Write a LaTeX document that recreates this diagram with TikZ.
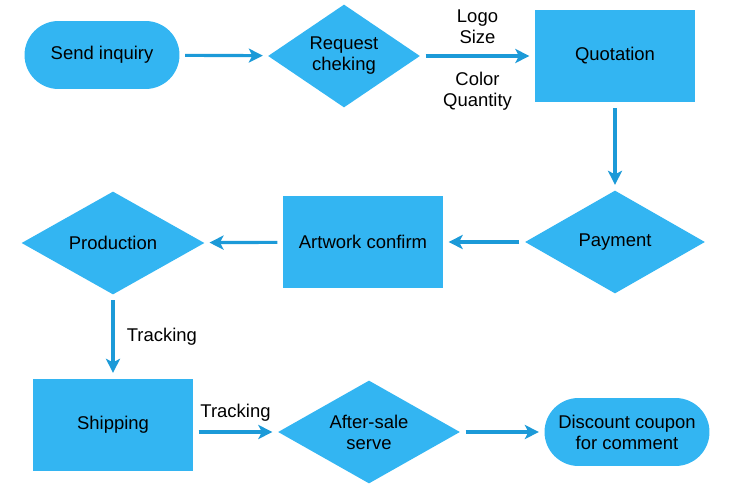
\documentclass[tikz,border=0pt]{standalone}
\usepackage{fontspec}
\setmainfont{Liberation Sans}
\usetikzlibrary{shapes.geometric,positioning,arrows.meta}
\definecolor{boxblue}{HTML}{33B5F2}
\definecolor{arrowblue}{HTML}{1C9AD8}
\begin{document}
\begin{tikzpicture}[x=0.02cm,y=-0.02cm,font=\fontsize{10.5}{12}\selectfont,
  every node/.style={align=center,inner sep=1pt},
  box/.style={rectangle,fill=boxblue,minimum width=3.2cm,minimum height=1.86cm},
  dia/.style={diamond,fill=boxblue,minimum width=3.6cm,minimum height=2.06cm,aspect=1.75},
  term/.style={rectangle,rounded corners=0.68cm,fill=boxblue,minimum width=3.1cm,minimum height=1.36cm},
  flow/.style={-{Stealth[length=8pt,width=8pt,inset=2pt]},line width=1.8pt,draw=arrowblue,shorten <=3pt,shorten >=3pt}]
\useasboundingbox (0,0) rectangle (750,486);

\node[term] (send) at (102,55) {Send inquiry};
\node[dia,minimum width=3.04cm] (check) at (344,56) {Request\\cheking};
\node[box] (quote) at (615,56) {Quotation};
\node[dia] (pay) at (615,242) {Payment};
\node[box] (art) at (363,242) {Artwork confirm};
\node[dia,minimum width=3.66cm] (prod) at (113,243) {Production};
\node[box] (ship) at (113,425) {Shipping};
\node[dia,minimum width=3.64cm] (after) at (369,432) {After-sale\\serve};
\node[term,minimum width=3.3cm] (coupon) at (627,432) {Discount coupon\\for comment};

\draw[flow] (send) -- (check);
\draw[flow] (check) -- node[above=5pt] {Logo\\Size} node[below=7pt] {Color\\Quantity} (quote);
\draw[flow] (quote) -- (pay);
\draw[flow] (pay) -- (art);
\draw[flow] (art) -- (prod);
\draw[flow] (prod) -- node[right=6pt] {Tracking} (ship);
\draw[flow] (ship.east |- after) -- node[above=4pt] {Tracking} (after);
\draw[flow] (after) -- (coupon);
\end{tikzpicture}
\end{document}
